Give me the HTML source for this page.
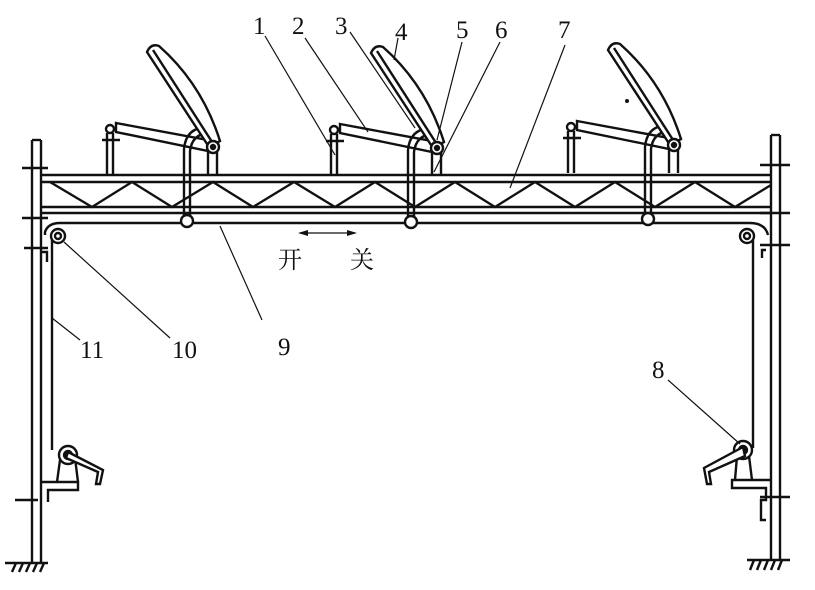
<!DOCTYPE html>
<html><head><meta charset="utf-8"><style>
html,body{margin:0;padding:0;background:#fff;}
svg{display:block}
text{font-family:"Liberation Serif","Noto Serif CJK SC",serif;fill:#111}
</style></head><body>
<svg width="815" height="590" viewBox="0 0 815 590" xmlns="http://www.w3.org/2000/svg">
<defs>
<g id="vent" stroke="#111" stroke-width="2.4" fill="none">
  <line x1="331" y1="134" x2="331" y2="176"/><line x1="337" y1="134" x2="337" y2="176"/>
  <circle cx="334" cy="130" r="4" fill="#fff"/>
  <line x1="326" y1="141" x2="344" y2="141"/>
  <polygon points="340,124 437,142 437,153 340,133" fill="#fff"/>
  <line x1="432" y1="152" x2="432" y2="176"/><line x1="441" y1="152" x2="441" y2="176"/>
  <path d="M408,222 L408,150 Q410,128 432,128"/>
  <path d="M414,222 L414,152 Q416,135 433,134"/>
  <circle cx="411" cy="222" r="6" fill="#fff"/>
  <path d="M433,148 L371,53 Q375,44 383,47 Q426,85 444,142 Z" fill="#fff"/>
  <line x1="438" y1="146" x2="377" y2="51"/>
  <circle cx="437" cy="148" r="6" fill="#fff"/>
  <circle cx="437" cy="148" r="2" fill="#111"/>
</g>
</defs>
<g stroke="#111" stroke-width="2.4" fill="none">
  <line x1="32" y1="140" x2="32" y2="562"/><line x1="41" y1="140" x2="41" y2="562"/>
  <line x1="32" y1="140" x2="41" y2="140"/>
  <line x1="771" y1="135" x2="771" y2="560"/><line x1="780" y1="135" x2="780" y2="560"/>
  <line x1="771" y1="135" x2="780" y2="135"/>
  <line x1="22" y1="168" x2="48" y2="168"/><line x1="22" y1="218" x2="48" y2="218"/><line x1="24" y1="248" x2="48" y2="248"/>
  <line x1="760" y1="165" x2="790" y2="165"/><line x1="760" y1="213" x2="790" y2="213"/><line x1="760" y1="245" x2="790" y2="245"/>
  <line x1="15" y1="500" x2="38" y2="500"/><line x1="760" y1="497" x2="790" y2="497"/>
  <line x1="41" y1="175" x2="771" y2="175"/><line x1="41" y1="182" x2="771" y2="182"/>
  <line x1="41" y1="207" x2="771" y2="207"/><line x1="41" y1="213" x2="771" y2="213"/>
  <polyline points="50,182 92,207 132,182 172,207 213,182 253,207 294,182 335,207 375,182 415,207 455,182 495,207 535,182 575,207 615,182 655,207 695,182 735,207 771,185"/>
  <path d="M45,235 L45,232 Q48,223 60,223 L750,223 Q765,223 768,235"/>
  <circle cx="58" cy="236" r="7" fill="#fff"/><circle cx="58" cy="236" r="3"/>
  <circle cx="747" cy="236" r="7" fill="#fff"/><circle cx="747" cy="236" r="3"/>
  <path d="M42,252 L47,252 L47,262"/><path d="M766,250 L762,250 L762,258"/>
  <line x1="52" y1="240" x2="52" y2="450"/>
  <line x1="753" y1="240" x2="753" y2="448"/>
  <circle cx="68" cy="455" r="9" fill="#fff"/><circle cx="68" cy="455" r="4" fill="#111"/>
  <path d="M60,460 L57,482 M75,458 L78,482"/>
  <path d="M68,452 L103,470 L100,484 L96,484 L98,472 L66,458 Z" fill="#fff"/>
  <path d="M41,482 L78,482 L78,490 L48,490 L48,502"/>
  <circle cx="743" cy="450" r="9" fill="#fff"/><circle cx="743" cy="450" r="4" fill="#111"/>
  <path d="M737,456 L735,480 M749,456 L752,480"/>
  <path d="M743,447 L704,468 L707,484 L711,484 L709,472 L745,456 Z" fill="#fff"/>
  <path d="M771,480 L732,480 L732,488 L766,488 L766,500 L761,500 L761,520 L766,520"/>
  <line x1="5" y1="563" x2="48" y2="563"/>
  <path d="M12,572 L16,563 M19,572 L23,563 M26,572 L30,563 M33,572 L37,563 M40,572 L44,563"/>
  <line x1="747" y1="560" x2="790" y2="560"/>
  <path d="M750,570 L754,560 M757,570 L761,560 M764,570 L768,560 M771,570 L775,560 M778,570 L782,560"/>
</g>
<use href="#vent" transform="translate(-224,-1)"/>
<use href="#vent"/>
<use href="#vent" transform="translate(237,-3)"/>
<g stroke="#111" stroke-width="1.2">
  <line x1="265" y1="36" x2="335" y2="155"/>
  <line x1="305" y1="38" x2="368" y2="132"/>
  <line x1="350" y1="32" x2="415" y2="128"/>
  <line x1="398" y1="38" x2="394" y2="60"/>
  <line x1="462" y1="42" x2="437" y2="140"/>
  <line x1="500" y1="42" x2="434" y2="172"/>
  <line x1="565" y1="45" x2="510" y2="188"/>
  <line x1="668" y1="380" x2="740" y2="444"/>
  <line x1="262" y1="320" x2="220" y2="226"/>
  <line x1="170" y1="338" x2="64" y2="242"/>
  <line x1="80" y1="340" x2="52" y2="318"/>
  <line x1="300" y1="233" x2="355" y2="233"/>
</g>
<polygon points="298,233 308,230 308,236" fill="#111"/>
<polygon points="357,233 347,230 347,236" fill="#111"/>
<circle cx="627" cy="101" r="2" fill="#111"/>
<g font-size="25">
  <text x="253" y="34">1</text><text x="292" y="34">2</text><text x="335" y="34">3</text>
  <text x="395" y="40">4</text><text x="456" y="38">5</text><text x="495" y="38">6</text>
  <text x="558" y="38">7</text><text x="652" y="378">8</text><text x="278" y="355">9</text>
  <text x="172" y="358">10</text><text x="80" y="358">11</text>
</g>
<g font-size="24" style="font-family:'Noto Sans CJK SC',sans-serif">
  <text x="278" y="268">开</text><text x="350" y="268">关</text>
</g>
</svg>
</body></html>
